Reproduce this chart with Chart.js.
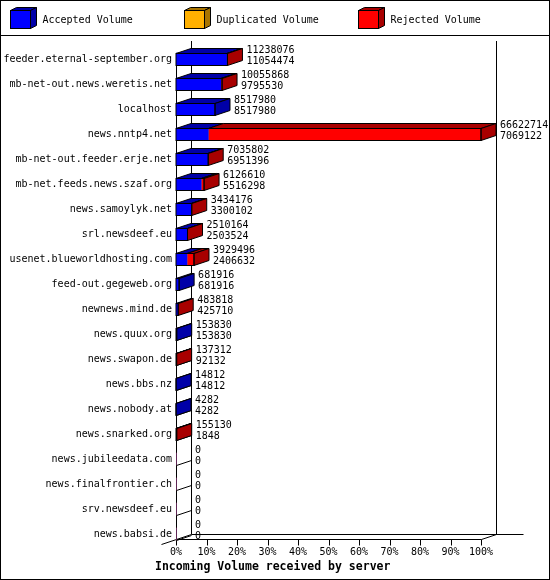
<!DOCTYPE html>
<html lang="en">
<head>
<meta charset="UTF-8">
<title>Incoming Volume received by server</title>
<script src="https://cdn.jsdelivr.net/npm/chart.js"></script>
<style>
  body { margin: 0; background: #fff; }
  #box { width: 550px; height: 580px; position: relative; }
</style>
</head>
<body>
<div id="box"><canvas id="volumeChart"></canvas></div>
<script>
// servers, top to bottom
const hosts = [
  'feeder.eternal-september.org', 'mb-net-out.news.weretis.net', 'localhost',
  'news.nntp4.net', 'mb-net-out.feeder.erje.net', 'mb-net.feeds.news.szaf.org',
  'news.samoylyk.net', 'srl.newsdeef.eu', 'usenet.blueworldhosting.com',
  'feed-out.gegeweb.org', 'newnews.mind.de', 'news.quux.org', 'news.swapon.de',
  'news.bbs.nz', 'news.nobody.at', 'news.snarked.org', 'news.jubileedata.com',
  'news.finalfrontier.ch', 'srv.newsdeef.eu', 'news.babsi.de'
];
// the two numbers printed next to each bar
const totalVolume = [
  11238076, 10055868, 8517980, 66622714, 7035802, 6126610, 3434176, 2510164,
  3929496, 681916, 483818, 153830, 137312, 14812, 4282, 155130, 0, 0, 0, 0
];
const acceptedVolume = [
  11054474, 9795530, 8517980, 7069122, 6951396, 5516298, 3300102, 2503524,
  2406632, 681916, 425710, 153830, 92132, 14812, 4282, 1848, 0, 0, 0, 0
];
const duplicatedVolume = [
  0, 0, 0, 0, 0, 0, 0, 0, 0, 0, 0, 0, 0, 0, 0, 0, 0, 0, 0, 0
];
const rejectedVolume = [
  183602, 260338, 0, 59553592, 84406, 610312, 134074, 6640,
  1522864, 0, 58108, 0, 45180, 0, 0, 153282, 0, 0, 0, 0
];
const xTickLabels = ['0%', '10%', '20%', '30%', '40%', '50%', '60%', '70%', '80%', '90%', '100%'];
const seriesNames = ['Accepted Volume', 'Duplicated Volume', 'Rejected Volume'];
const frontColors = ['#0000ff', '#ffb000', '#ff0000'];
const shadeColors = ['#0000a8', '#a87400', '#a80000'];

const FONT = "'DejaVu Sans Mono', 'Liberation Mono', monospace";
const DX = 15, DY = -5;   // depth of the fake 3d
const maxTotal = Math.max(...totalVolume);
const pct = arr => arr.map(v => v / maxTotal * 100);

function line(ctx, x1, y1, x2, y2) {
  ctx.beginPath();
  ctx.moveTo(x1, y1);
  ctx.lineTo(x2, y2);
  ctx.stroke();
}

function poly(ctx, pts, fill) {
  ctx.beginPath();
  ctx.moveTo(pts[0][0], pts[0][1]);
  for (let k = 1; k < pts.length; k++) ctx.lineTo(pts[k][0], pts[k][1]);
  ctx.closePath();
  if (fill) { ctx.fillStyle = fill; ctx.fill(); }
  ctx.stroke();
}

// little box used in the legend
function cube(ctx, x, y, w, h, dx, dy, front, shade) {
  poly(ctx, [[x, y], [x + w, y], [x + w + dx, y + dy], [x + dx, y + dy]], shade);
  poly(ctx, [[x + w, y], [x + w + dx, y + dy], [x + w + dx, y + h + dy], [x + w, y + h]], shade);
  ctx.fillStyle = front;
  ctx.fillRect(x, y, w, h);
  ctx.strokeRect(x, y, w, h);
}

const pseudo3d = {
  id: 'pseudo3d',
  beforeDraw(chart) {
    const ctx = chart.ctx, a = chart.chartArea;
    const W = chart.width, H = chart.height;
    ctx.save();
    ctx.fillStyle = '#fff';
    ctx.fillRect(0, 0, W, H);
    ctx.strokeStyle = '#000';
    ctx.lineWidth = 1;
    ctx.strokeRect(0.5, 0.5, W - 1, H - 1);
    line(ctx, 0, 35.5, W, 35.5);

    // legend
    const legX = [10.5, 184.5, 358.5];
    seriesNames.forEach((name, k) => {
      cube(ctx, legX[k], 10.5, 20, 18, 6, -3, frontColors[k], shadeColors[k]);
      ctx.fillStyle = '#000';
      ctx.font = '10px ' + FONT;
      ctx.textBaseline = 'middle';
      ctx.textAlign = 'left';
      ctx.fillText(name, legX[k] + 32, 20);
    });

    // walls and floor
    const L = Math.round(a.left) + 0.5, R = Math.round(a.right) + 0.5;
    const fy = Math.round(a.bottom - 8) + 0.5, by = fy + DY, top = 41;
    const ys = chart.scales.y;
    line(ctx, L + DX, top, L + DX, by);
    line(ctx, R + DX, top, R + DX, by);
    line(ctx, L + DX, by, R + DX + 27, by);
    line(ctx, L - 15, fy + 5, L + DX, by);
    line(ctx, L, fy, R, fy);
    line(ctx, R, fy, R + DX, by);
    line(ctx, L, ys.getPixelForValue(0) - 6, L, fy);
    hosts.forEach((h, i) => {
      const yb = Math.round(ys.getPixelForValue(i) + 6) + 0.5;
      line(ctx, L, yb, L + DX, yb + DY);
    });
    // tick marks on the front edge
    const xs = chart.scales.x;
    xs.ticks.forEach(t => {
      const x = Math.round(xs.getPixelForValue(t.value)) + 0.5;
      line(ctx, x, fy, x, fy + 6);
    });

    // axis title
    ctx.fillStyle = '#000';
    ctx.font = 'bold 11.5px ' + FONT;
    ctx.textAlign = 'left';
    ctx.textBaseline = 'middle';
    ctx.fillText('Incoming Volume received by server', 155, 567);
    ctx.restore();
  },
  afterDatasetsDraw(chart) {
    const ctx = chart.ctx, a = chart.chartArea;
    ctx.save();
    ctx.strokeStyle = '#000';
    ctx.lineWidth = 1;
    hosts.forEach((h, i) => {
      const segs = [];
      chart.data.datasets.forEach((ds, d) => {
        if (!(ds.data[i] > 0)) return;
        const el = chart.getDatasetMeta(d).data[i];
        const p = el.getProps(['x', 'y', 'base', 'height'], true);
        segs.push({ l: Math.min(p.base, p.x), r: Math.max(p.base, p.x), y: p.y, d });
      });
      const yc = chart.scales.y.getPixelForValue(i);
      let tx = a.left + DX + 4;
      if (segs.length) {
        segs.sort((s, t) => s.l - t.l);
        const y0 = Math.round(yc - 6) + 0.5, y1 = y0 + 12;
        segs.forEach(s => {
          poly(ctx, [[s.l, y0], [s.r, y0], [s.r + DX, y0 + DY], [s.l + DX, y0 + DY]], shadeColors[s.d]);
        });
        const last = segs[segs.length - 1];
        poly(ctx, [[last.r, y0], [last.r + DX, y0 + DY], [last.r + DX, y1 + DY], [last.r, y1]], shadeColors[last.d]);
        ctx.strokeRect(segs[0].l, y0, last.r - segs[0].l, 12);
        tx = last.r + DX + 4;
      }
      ctx.fillStyle = '#000';
      ctx.font = '10px ' + FONT;
      ctx.textAlign = 'left';
      ctx.textBaseline = 'middle';
      ctx.fillText(String(totalVolume[i]), tx, yc - 8.5);
      ctx.fillText(String(acceptedVolume[i]), tx, yc + 2);
    });
    ctx.restore();
  }
};

const datasets = [acceptedVolume, duplicatedVolume, rejectedVolume].map((vals, k) => ({
  label: seriesNames[k],
  data: pct(vals),
  backgroundColor: frontColors[k],
  borderWidth: 0,
  barThickness: 12
}));

new Chart(document.getElementById('volumeChart'), {
  type: 'bar',
  data: { labels: hosts, datasets },
  plugins: [pseudo3d],
  options: {
    indexAxis: 'y',
    responsive: true,
    maintainAspectRatio: false,
    animation: false,
    layout: { padding: { top: 46.5, right: 69, bottom: 0, left: 0 } },
    plugins: { legend: { display: false }, tooltip: { enabled: false } },
    scales: {
      x: {
        type: 'linear',
        stacked: true,
        min: 0,
        max: 100,
        grid: { display: false, drawTicks: false },
        border: { display: false },
        ticks: {
          stepSize: 10,
          padding: 0,
          color: '#000',
          font: { family: FONT, size: 10 },
          maxRotation: 0,
          callback: (v, idx) => xTickLabels[idx]
        },
        afterFit: s => { s.height = 33.5; }
      },
      y: {
        stacked: true,
        grid: { display: false, drawTicks: false },
        border: { display: false },
        ticks: {
          padding: 4,
          color: '#000',
          autoSkip: false,
          font: { family: FONT, size: 10 }
        },
        afterFit: s => { s.width = 176; }
      }
    }
  }
});
</script>
</body>
</html>
